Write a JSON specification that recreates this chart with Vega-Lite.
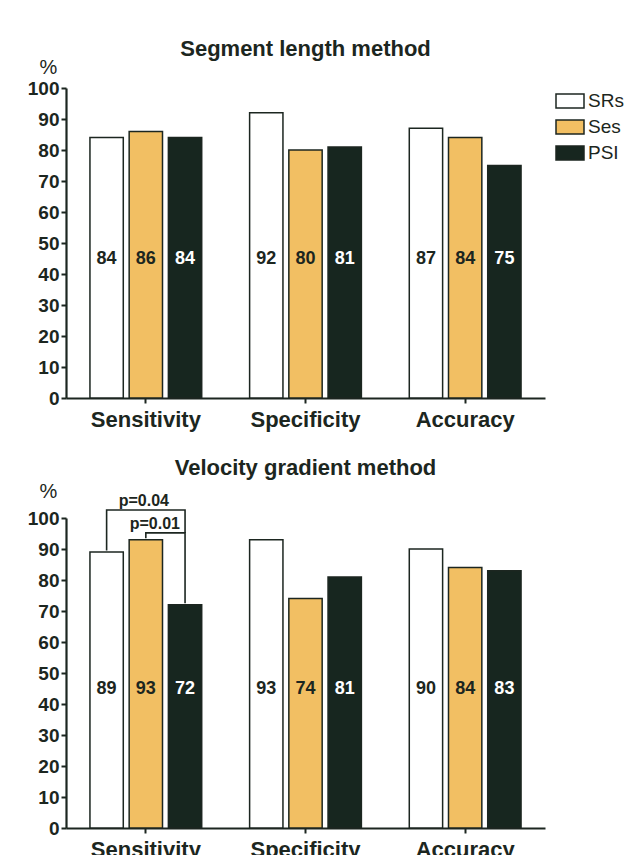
{
  "$schema": "https://vega.github.io/schema/vega-lite/v6.json",
  "padding": {"left": 27, "top": 38, "right": 0, "bottom": 0},
  "background": "white",
  "datasets": {
    "seg": [
      {"metric": "Sensitivity", "method": "SRs", "value": 84},
      {"metric": "Sensitivity", "method": "Ses", "value": 86},
      {"metric": "Sensitivity", "method": "PSI", "value": 84},
      {"metric": "Specificity", "method": "SRs", "value": 92},
      {"metric": "Specificity", "method": "Ses", "value": 80},
      {"metric": "Specificity", "method": "PSI", "value": 81},
      {"metric": "Accuracy", "method": "SRs", "value": 87},
      {"metric": "Accuracy", "method": "Ses", "value": 84},
      {"metric": "Accuracy", "method": "PSI", "value": 75}
    ],
    "vel": [
      {"metric": "Sensitivity", "method": "SRs", "value": 89},
      {"metric": "Sensitivity", "method": "Ses", "value": 93},
      {"metric": "Sensitivity", "method": "PSI", "value": 72},
      {"metric": "Specificity", "method": "SRs", "value": 93},
      {"metric": "Specificity", "method": "Ses", "value": 74},
      {"metric": "Specificity", "method": "PSI", "value": 81},
      {"metric": "Accuracy", "method": "SRs", "value": 90},
      {"metric": "Accuracy", "method": "Ses", "value": 84},
      {"metric": "Accuracy", "method": "PSI", "value": 83}
    ],
    "brackets": [
      {"bracket": "a", "ord": 1, "metric": "Sensitivity", "method": "SRs", "value": 89.5},
      {"bracket": "a", "ord": 2, "metric": "Sensitivity", "method": "SRs", "value": 102.6},
      {"bracket": "a", "ord": 3, "metric": "Sensitivity", "method": "PSI", "value": 102.6},
      {"bracket": "a", "ord": 4, "metric": "Sensitivity", "method": "PSI", "value": 95.2},
      {"bracket": "b", "ord": 1, "metric": "Sensitivity", "method": "Ses", "value": 93.5},
      {"bracket": "b", "ord": 2, "metric": "Sensitivity", "method": "Ses", "value": 95.2},
      {"bracket": "b", "ord": 3, "metric": "Sensitivity", "method": "PSI", "value": 95.2},
      {"bracket": "b", "ord": 4, "metric": "Sensitivity", "method": "PSI", "value": 72.5}
    ],
    "p04": [
      {"metric": "Sensitivity", "method": "Ses", "value": 102.6, "label": "p=0.04"}
    ],
    "p01": [
      {"metric": "Sensitivity", "method": "Ses", "value": 95.2, "label": "p=0.01"}
    ]
  },
  "config": {
    "font": "Liberation Sans",
    "view": {"stroke": null},
    "title": {"fontSize": 22, "fontWeight": "bold", "color": "#1c2620", "anchor": "middle", "frame": "group"},
    "axis": {"grid": false, "domainColor": "#1c2620", "tickColor": "#1c2620", "domainWidth": 2.2, "tickWidth": 2, "tickSize": 5, "labelColor": "#1c2620", "labelFont": "Liberation Sans", "labelFontWeight": "bold"},
    "axisX": {"title": null, "labelAngle": 0, "labelFontSize": 22, "labelPadding": 6},
    "axisY": {"titleAngle": 0, "titleFontSize": 20, "titleFontWeight": "normal", "titleColor": "#1c2620", "titleAlign": "center", "titleBaseline": "alphabetic", "titleX": -18, "labelFontSize": 19, "labelPadding": 2},
    "legend": {"labelFont": "Liberation Sans", "labelFontSize": 19, "labelColor": "#1c2620"}
  },
  "vconcat": [
    {
      "width": 479,
      "height": 310,
      "title": {"text": "Segment length method", "offset": -4},
      "data": {"name": "seg"},
      "encoding": {
        "x": {"field": "metric", "type": "nominal", "sort": ["Sensitivity", "Specificity", "Accuracy"], "scale": {"paddingInner": 0.3, "paddingOuter": 0.15}},
        "xOffset": {"field": "method", "type": "nominal", "sort": ["SRs", "Ses", "PSI"], "scale": {"paddingInner": 0.15}}
      },
      "layer": [
        {
          "mark": {"type": "bar", "stroke": "#1c2620", "strokeWidth": 1.5},
          "encoding": {
            "y": {"field": "value", "type": "quantitative", "scale": {"domain": [0, 100], "nice": false},
              "axis": {"title": "%", "titleY": -15, "values": [0,10,20,30,40,50,60,70,80,90,100], "tickCount": 11, "labelOverlap": false}},
            "fill": {"field": "method", "type": "nominal", "sort": ["SRs", "Ses", "PSI"],
              "scale": {"domain": ["SRs", "Ses", "PSI"], "range": ["#ffffff", "#f2bf63", "#17261f"]},
              "legend": {"title": null, "orient": "none", "legendX": 489, "legendY": -2, "symbolType": "M-1,-0.5H1V0.5H-1Z", "symbolSize": 784, "symbolStrokeColor": "#1c2620", "symbolStrokeWidth": 1.5, "rowPadding": 1, "labelOffset": 3}}
          }
        },
        {
          "mark": {"type": "text", "fontSize": 18, "fontWeight": "bold", "baseline": "middle"},
          "encoding": {
            "y": {"datum": 45, "type": "quantitative"},
            "text": {"field": "value", "type": "quantitative"},
            "color": {"condition": {"test": "datum.method === 'PSI'", "value": "#ffffff"}, "value": "#1c2620"}
          }
        }
      ]
    },
    {
      "width": 479,
      "height": 310,
      "title": {"text": "Velocity gradient method", "offset": 1},
      "encoding": {
        "x": {"field": "metric", "type": "nominal", "sort": ["Sensitivity", "Specificity", "Accuracy"], "scale": {"paddingInner": 0.3, "paddingOuter": 0.15}},
        "xOffset": {"field": "method", "type": "nominal", "sort": ["SRs", "Ses", "PSI"], "scale": {"paddingInner": 0.15}}
      },
      "layer": [
        {
          "data": {"name": "vel"},
          "mark": {"type": "bar", "stroke": "#1c2620", "strokeWidth": 1.5},
          "encoding": {
            "y": {"field": "value", "type": "quantitative", "scale": {"domain": [0, 100], "nice": false},
              "axis": {"title": "%", "titleY": -21, "values": [0,10,20,30,40,50,60,70,80,90,100], "tickCount": 11, "labelOverlap": false}},
            "fill": {"field": "method", "type": "nominal", "sort": ["SRs", "Ses", "PSI"],
              "scale": {"domain": ["SRs", "Ses", "PSI"], "range": ["#ffffff", "#f2bf63", "#17261f"]},
              "legend": {"title": null, "orient": "none", "legendX": 489, "legendY": 13, "symbolType": "M-1,-0.5H1V0.5H-1Z", "symbolSize": 784, "symbolStrokeColor": "#1c2620", "symbolStrokeWidth": 1.5, "rowPadding": 1, "labelOffset": 3}}
          }
        },
        {
          "data": {"name": "vel"},
          "mark": {"type": "text", "fontSize": 18, "fontWeight": "bold", "baseline": "middle"},
          "encoding": {
            "y": {"datum": 45, "type": "quantitative"},
            "text": {"field": "value", "type": "quantitative"},
            "color": {"condition": {"test": "datum.method === 'PSI'", "value": "#ffffff"}, "value": "#1c2620"}
          }
        },
        {
          "data": {"name": "brackets"},
          "mark": {"type": "line", "color": "#1c2620", "strokeWidth": 1.6, "clip": false, "interpolate": "linear"},
          "encoding": {
            "y": {"field": "value", "type": "quantitative"},
            "detail": {"field": "bracket"},
            "order": {"field": "ord", "type": "quantitative"}
          }
        },
        {
          "data": {"name": "p04"},
          "mark": {"type": "text", "fontSize": 16, "fontWeight": "bold", "baseline": "bottom", "dy": -1, "dx": -2, "color": "#1c2620", "clip": false},
          "encoding": {
            "y": {"field": "value", "type": "quantitative"},
            "text": {"field": "label"}
          }
        },
        {
          "data": {"name": "p01"},
          "mark": {"type": "text", "fontSize": 16, "fontWeight": "bold", "baseline": "bottom", "dy": -1, "dx": 9, "color": "#1c2620", "clip": false},
          "encoding": {
            "y": {"field": "value", "type": "quantitative"},
            "text": {"field": "label"}
          }
        }
      ]
    }
  ],
  "spacing": 27
}
